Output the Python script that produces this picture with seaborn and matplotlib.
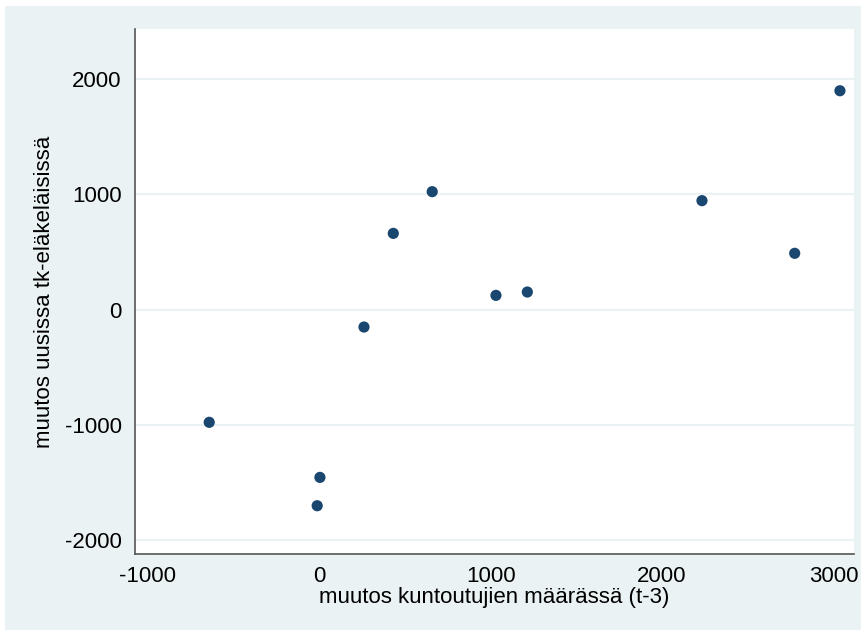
import matplotlib
matplotlib.use("Agg")
import matplotlib.pyplot as plt
import seaborn as sns
import pandas as pd
from matplotlib.patches import Rectangle

# values
kuntoutujat = [-642, 4, -12, 261, 432, 659, 1031, 1214, 2233, 2774, 3038]
tk_elakelaiset = [-979, -1457, -1703, -152, 661, 1023, 123, 152, 945, 488, 1899]
x_ticks = [-1000, 0, 1000, 2000, 3000]
y_ticks = [-2000, -1000, 0, 1000, 2000]

df = pd.DataFrame({"x": kuntoutujat, "y": tk_elakelaiset})

sns.set_style("white")
plt.rcParams['font.family'] = ['Liberation Sans', 'DejaVu Sans']
plt.rcParams['axes.unicode_minus'] = False

W, H = 862, 630
fig = plt.figure(figsize=(W / 100, H / 100), dpi=100)
fig.patch.set_facecolor("white")
# Stata-style outer background
fig.patches.append(Rectangle((5 / W, 0), (W - 5) / W, (H - 6) / H,
                             transform=fig.transFigure, facecolor="#EAF2F3",
                             edgecolor="none", zorder=-5))

ax = fig.add_axes([135 / W, 1 - 554 / H, (854 - 135) / W, (554 - 29) / H])
ax.set_facecolor("white")

for yv in y_ticks:
    ax.axhline(yv, color="#EAF2F3", lw=1.5, zorder=1)

sns.scatterplot(data=df, x="x", y="y", ax=ax, color="#1A476F", s=65,
                edgecolor="none", zorder=3)

fs = 16
ax.set_xlim(-1075, 3120)
ax.set_ylim(-2122, 2435)
ax.set_xticks(x_ticks)
ax.set_yticks(y_ticks)
ax.tick_params(axis="x", length=6, width=1, color="#333333", pad=3,
               labelsize=fs, labelcolor="black")
ax.tick_params(axis="y", length=7.5, width=1, color="#333333", pad=2,
               labelsize=fs, labelcolor="black")

for s in ["top", "right"]:
    ax.spines[s].set_visible(False)
for s in ["left", "bottom"]:
    ax.spines[s].set_color("#555555")
    ax.spines[s].set_linewidth(1.2)

ax.set_xlabel("muutos kuntoutujien määrässä (t-3)", fontsize=fs, labelpad=0,
              color="black")
ax.set_ylabel("muutos uusissa tk-eläkeläisissä", fontsize=fs, labelpad=7,
              color="black")

fig.savefig("out.png", dpi=100)
